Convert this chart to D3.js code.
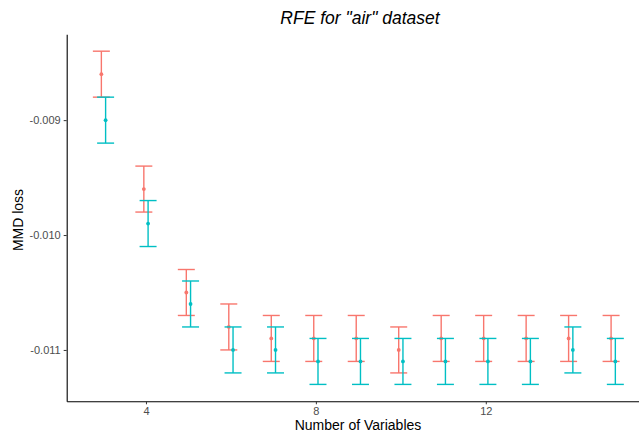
<!DOCTYPE html>
<html>
<head>
<meta charset="utf-8">
<script src="https://cdn.jsdelivr.net/npm/d3@7"></script>
<style>
  body { margin: 0; background: #fff; }
  svg { display: block; font-family: "Liberation Sans", Arial, sans-serif; }
</style>
</head>
<body>
<div id="chart"></div>
<script>
// number of variables kept by RFE
const nVars = [3, 4, 5, 6, 7, 8, 9, 10, 11, 12, 13, 14, 15];
// the two runs (red and teal), mean MMD loss and its spread
const lossRed  = [-0.0086, -0.0096, -0.0105, -0.0108, -0.0109, -0.0109, -0.0109, -0.0110, -0.0109, -0.0109, -0.0109, -0.0109, -0.0109];
const errRed   = [0.0002, 0.0002, 0.0002, 0.0002, 0.0002, 0.0002, 0.0002, 0.0002, 0.0002, 0.0002, 0.0002, 0.0002, 0.0002];
const lossTeal = [-0.0090, -0.0099, -0.0106, -0.0110, -0.0110, -0.0111, -0.0111, -0.0111, -0.0111, -0.0111, -0.0111, -0.0110, -0.0111];
const errTeal  = [0.0002, 0.0002, 0.0002, 0.0002, 0.0002, 0.0002, 0.0002, 0.0002, 0.0002, 0.0002, 0.0002, 0.0002, 0.0002];
const xTicks = [4, 8, 12];
const yTicks = [-0.009, -0.010, -0.011];

const W = 639, H = 436;
const panel = {left: 66.7, right: 650, top: 34.3, bottom: 401.3};

const svg = d3.select("#chart").append("svg")
  .attr("width", W).attr("height", H);

const x = d3.scaleLinear().domain([2.134, 15.866]).range([panel.left, panel.right]);
const y = d3.scaleLinear().domain([-0.011447, -0.008253]).range([panel.bottom, panel.top]);

const dodge = 0.05, capHalf = 0.2;

const series = [
  {color: "#F8766D", off: -dodge, loss: lossRed, err: errRed},
  {color: "#00BFC4", off: dodge, loss: lossTeal, err: errTeal}
];

series.forEach(s => {
  const rows = nVars.map((v, i) => ({v: v + s.off, m: s.loss[i], e: s.err[i]}));
  const g = svg.append("g");

  // error bars: stem + two caps
  g.selectAll(".stem").data(rows).enter().append("line")
    .attr("x1", d => x(d.v)).attr("x2", d => x(d.v))
    .attr("y1", d => y(d.m + d.e)).attr("y2", d => y(d.m - d.e))
    .attr("stroke", s.color).attr("stroke-width", 1.4);

  ["hi", "lo"].forEach(k => {
    g.selectAll(".cap-" + k).data(rows).enter().append("line")
      .attr("x1", d => x(d.v - capHalf)).attr("x2", d => x(d.v + capHalf))
      .attr("y1", d => y(k === "hi" ? d.m + d.e : d.m - d.e))
      .attr("y2", d => y(k === "hi" ? d.m + d.e : d.m - d.e))
      .attr("stroke", s.color).attr("stroke-width", 1.4);
  });

  g.selectAll("circle").data(rows).enter().append("circle")
    .attr("cx", d => x(d.v)).attr("cy", d => y(d.m))
    .attr("r", 1.9).attr("fill", s.color);
});

// axes
const xAxis = svg.append("g")
  .attr("transform", "translate(0," + panel.bottom + ")")
  .call(d3.axisBottom(x).tickValues(xTicks).tickSizeInner(3).tickSizeOuter(0).tickPadding(3).tickFormat(d3.format("d")));
const yAxis = svg.append("g")
  .attr("transform", "translate(" + panel.left + ",0)")
  .call(d3.axisLeft(y).tickValues(yTicks).tickSizeInner(3).tickSizeOuter(0).tickPadding(3));

[xAxis, yAxis].forEach(a => {
  a.select(".domain").attr("stroke", "#000").attr("stroke-width", 1.1);
  a.selectAll(".tick line").attr("stroke", "#333");
  a.selectAll(".tick text").attr("fill", "#4d4d4d")
    .style("font-size", "11px").style("font-family", "Liberation Sans, Arial, sans-serif");
});
yAxis.selectAll(".tick text").text(d => d3.format(".3f")(d).replace("−", "-"));

// titles
svg.append("text")
  .attr("x", 360).attr("y", 24)
  .attr("text-anchor", "middle")
  .style("font-size", "17.5px").style("font-style", "italic")
  .text('RFE for "air" dataset');

svg.append("text")
  .attr("x", 358).attr("y", 430)
  .attr("text-anchor", "middle")
  .style("font-size", "14px")
  .text("Number of Variables");

svg.append("text")
  .attr("transform", "translate(23,220) rotate(-90)")
  .attr("text-anchor", "middle")
  .style("font-size", "14px")
  .text("MMD loss");
</script>
</body>
</html>
